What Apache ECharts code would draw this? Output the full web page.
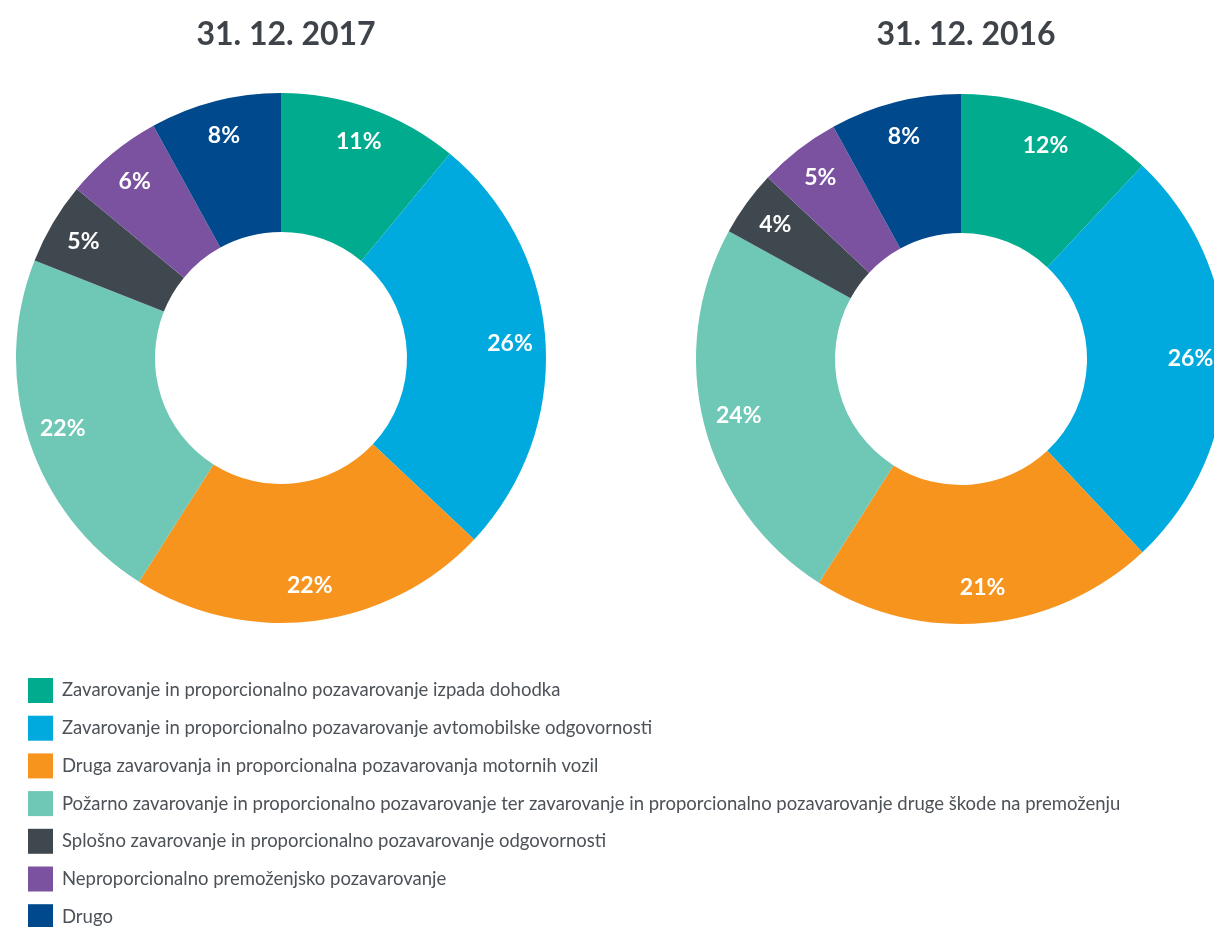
<!DOCTYPE html>
<html>
<head>
<meta charset="utf-8">
<script src="https://cdn.jsdelivr.net/npm/echarts@6/dist/echarts.min.js"></script>
<style>
  html, body { margin: 0; padding: 0; background: #fff; }
  #chart { width: 1214px; height: 927px; }
</style>
</head>
<body>
<div id="chart"></div>
<script>
// podatki
const categories = [
  'Zavarovanje in proporcionalno pozavarovanje izpada dohodka',
  'Zavarovanje in proporcionalno pozavarovanje avtomobilske odgovornosti',
  'Druga zavarovanja in proporcionalna pozavarovanja motornih vozil',
  'Požarno zavarovanje in proporcionalno pozavarovanje ter zavarovanje in proporcionalno pozavarovanje druge škode na premoženju',
  'Splošno zavarovanje in proporcionalno pozavarovanje odgovornosti',
  'Neproporcionalno premoženjsko pozavarovanje',
  'Drugo'
]
const values2017 = [11, 26, 22, 22, 5, 6, 8]
const values2016 = [12, 26, 21, 24, 4, 5, 8]
const years = ['31. 12. 2017', '31. 12. 2016']
const colors = ['#00ab8e', '#00aade', '#f7941e', '#6fc7b5', '#40484f', '#7b52a0', '#00498c']

const font = 'Lato, "Open Sans", sans-serif'
const centers = [[281, 358], [961, 359]]

const toData = vals => vals.map((v, i) => ({ name: categories[i], value: v }))

const ringSeries = (vals, center) => ({
  type: 'pie',
  center: center,
  radius: [126, 265],
  startAngle: 90,
  clockwise: true,
  silent: true,
  label: { show: false },
  labelLine: { show: false },
  data: toData(vals)
})

// prozoren obroč samo za napise, da so bolj proti zunanjemu robu
const labelSeries = (vals, center) => ({
  type: 'pie',
  center: center,
  radius: [188, 265],
  startAngle: 90,
  clockwise: true,
  silent: true,
  legendHoverLink: false,
  itemStyle: { color: 'rgba(0,0,0,0)' },
  label: {
    show: true,
    position: 'inside',
    formatter: p => p.value + '%',
    color: '#fff',
    fontFamily: font,
    fontWeight: 'bold',
    fontSize: 23
  },
  labelLine: { show: false },
  emphasis: { disabled: true },
  data: toData(vals)
})

const chart = echarts.init(document.getElementById('chart'))
chart.setOption({
  color: colors,
  animation: false,
  title: years.map((y, i) => ({
    text: y,
    left: centers[i][0],
    textAlign: 'center',
    top: 14,
    textStyle: { fontFamily: font, fontSize: 32, fontWeight: 'bold', color: '#3d4349' }
  })),
  legend: {
    orient: 'vertical',
    left: 23,
    top: 673,
    height: 300,
    icon: 'rect',
    itemWidth: 25,
    itemHeight: 25,
    itemGap: 12.7,
    selectedMode: false,
    data: categories,
    textStyle: {
      fontFamily: font,
      fontSize: 18.5,
      color: '#4d5258',
      padding: [0, 0, 0, 4]
    }
  },
  series: [
    ringSeries(values2017, centers[0]),
    ringSeries(values2016, centers[1]),
    labelSeries(values2017, centers[0]),
    labelSeries(values2016, centers[1])
  ]
})
</script>
</body>
</html>
